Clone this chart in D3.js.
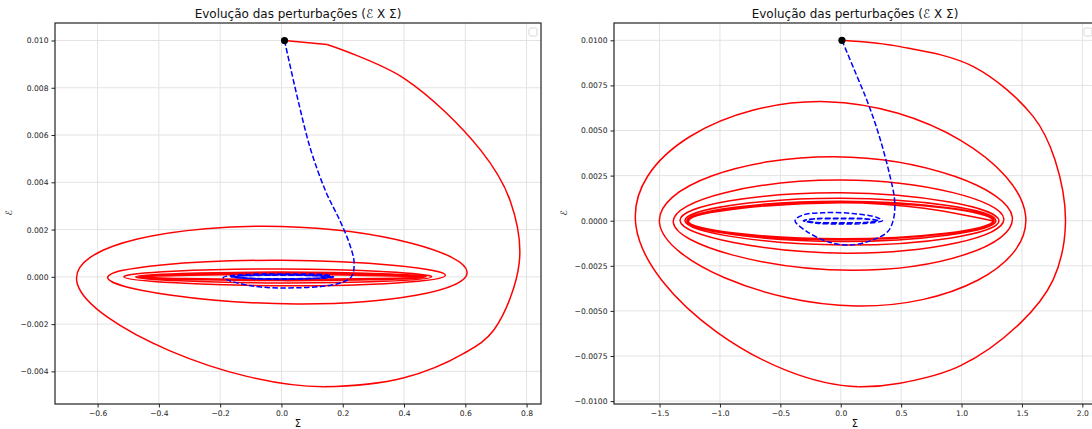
<!DOCTYPE html>
<html><head><meta charset="utf-8">
<script src="https://cdn.jsdelivr.net/npm/d3@7"></script>
<style>body{margin:0;background:#fff;} svg{display:block;font-family:"DejaVu Sans",sans-serif;}</style>
</head><body><svg id="c" width="1092" height="429"></svg>
<script>
// ---- tick labels ----
const leftXTicks = [-0.6, -0.4, -0.2, 0.0, 0.2, 0.4, 0.6, 0.8];
const leftYTicks = [-0.004, -0.002, 0.000, 0.002, 0.004, 0.006, 0.008, 0.010];
const rightXTicks = [-1.5, -1.0, -0.5, 0.0, 0.5, 1.0, 1.5, 2.0];
const rightYTicks = [-0.0100, -0.0075, -0.0050, -0.0025, 0.0000, 0.0025, 0.0050, 0.0075, 0.0100];

// ---- left panel (Σ, ℰ) ----
// red: first arc, from the start through the first right turn to the first bottom (last point only steers the curve)
const leftArcSigma = [0.01, 0.149, 0.40, 0.65, 0.747, 0.776, 0.693, 0.595, 0.40, 0.138, -0.264];
const leftArcE     = [0.0100, 0.00983, 0.0084, 0.00536, 0.0032, 0.0006, -0.00225, -0.00324, -0.00427, -0.00465, -0.00423];
// red: turning points of the spiral (right, bottom, left, top, ...)
const leftRedSigma = [0.776, 0.138, -0.666, 0.0, 0.606, 0.05, -0.567, 0.0, 0.535, 0.02, -0.514, 0.0, 0.49, 0.0, -0.476, 0.0, 0.472, 0.0, -0.465, 0.0, 0.463, 0.0, -0.455, 0.0, 0.458, 0.0, -0.449, 0.0, 0.452];
const leftRedE     = [0.0006, -0.00465, -0.0003, 0.00213, 0.0002, -0.00115, -0.00005, 0.0007, 0.00007, -0.00038, 0.0, 0.00033, 0.0, -0.00026, 0.0, 0.0002, 0.0, -0.00016, 0.0, 0.00014, 0.0, -0.00012, 0.0, 0.00011, 0.0, -0.0001, 0.0, 0.0001, 0.0];
const leftBlueSigma = [0.01, 0.05, 0.095, 0.145, 0.19, 0.222, 0.237, 0.228, 0.18, 0.06, -0.10, -0.19, -0.12, 0.02, 0.15, 0.17, 0.08, -0.08, -0.165, -0.08, 0.08, 0.165, 0.08, -0.08, -0.16, -0.08, 0.08, 0.165, 0.08, -0.08, -0.16, -0.08, 0.08, 0.16];
const leftBlueE     = [0.0100, 0.0077, 0.0054, 0.0036, 0.0024, 0.0014, 0.0006, 0.0000, -0.0003, -0.00046, -0.00038, -0.00003, 0.0001, 0.00012, 0.00008, 0.0, -0.00009, -0.00009, 0.0, 0.00008, 0.00008, 0.0, -0.00008, -0.00008, 0.0, 0.00007, 0.00007, 0.0, -0.00007, -0.00007, 0.0, 0.00006, 0.00006, 0.0];

// ---- right panel (Σ, ℰ) ----
const rightArcSigma = [0.01, 0.49, 1.098, 1.594, 1.774, 1.86, 1.757, 1.484, 0.988, 0.49, 0.146, -0.337];
const rightArcE     = [0.0100, 0.00965, 0.00854, 0.00577, 0.00336, -0.0002, -0.00329, -0.00569, -0.00805, -0.00901, -0.0092, -0.00883];
const rightRedSigma = [1.86, 0.146, -1.695, -0.12, 1.53, 0.13, -1.50, -0.05, 1.42, 0.10, -1.386, 0.0, 1.35, 0.05, -1.33, 0.0, 1.31, 0.03, -1.29, 0.0, 1.285, 0.0, -1.275, 0.0, 1.27, 0.0, -1.265, 0.0, 1.26, 0.0, -1.26, 0.0, 1.255];
const rightRedE     = [-0.0002, -0.0092, -0.0003, 0.0066, 0.0003, -0.00473, -0.00014, 0.00355, 0.0002, -0.00275, -0.0001, 0.00226, 0.0001, -0.0018, 0.0, 0.00155, 0.0, -0.00135, 0.0, 0.00124, 0.0, -0.00115, 0.0, 0.00108, 0.0, -0.00105, 0.0, 0.00102, 0.0, -0.001, 0.0, 0.001, 0.0];
const rightBlueSigma = [0.01, 0.11, 0.215, 0.29, 0.353, 0.41, 0.445, 0.44, 0.39, 0.25, 0.08, -0.10, -0.28, -0.378, -0.32, -0.15, 0.10, 0.30, 0.345, 0.2, 0.0, -0.2, -0.31, -0.2, 0.0, 0.2, 0.31, 0.2, 0.0, -0.2, -0.31, -0.2, 0.0, 0.2, 0.31, 0.2, 0.0, -0.2, -0.30];
const rightBlueE     = [0.0100, 0.0084, 0.0067, 0.0053, 0.0039, 0.0024, 0.0012, 0.0002, -0.0006, -0.0011, -0.00135, -0.00118, -0.0006, 0.0, 0.0003, 0.00044, 0.0004, 0.00018, 0.0, -0.00015, -0.00018, -0.00014, 0.0, 0.00012, 0.00014, 0.00011, 0.0, -0.0001, -0.00012, -0.0001, 0.0, 0.0001, 0.00011, 0.0001, 0.0, -0.0001, -0.00011, -0.0001, 0.0];

const titleText = "Evolução das perturbações (ℰ X Σ)";

const zip = (a, b) => a.map((v, i) => [v, b[i]]);

const panels = [
  { x0: 55, x1: 541, y0: 23, y1: 404, xDomain: [-0.739, 0.847], yDomain: [-0.00538, 0.01074],
    xTicks: leftXTicks, yTicks: leftYTicks, xFmt: d3.format(".1f"), yFmt: d3.format(".3f"),
    arc: zip(leftArcSigma, leftArcE), red: zip(leftRedSigma, leftRedE), blue: zip(leftBlueSigma, leftBlueE),
    kink: true, yLabelX: 12 },
  { x0: 614, x1: 1096, y0: 23, y1: 404, xDomain: [-1.877, 2.113], yDomain: [-0.01016, 0.01096],
    xTicks: rightXTicks, yTicks: rightYTicks, xFmt: d3.format(".1f"), yFmt: d3.format(".4f"),
    arc: zip(rightArcSigma, rightArcE), red: zip(rightRedSigma, rightRedE), blue: zip(rightBlueSigma, rightBlueE),
    kink: false, yLabelX: 567 }
];

// records the commands a d3 curve emits, so chosen segments can be left out
function recorder() {
  const cmds = [];
  return {
    cmds,
    moveTo(x, y) { cmds.push(["M", x, y]); },
    lineTo(x, y) { cmds.push(["L", x, y]); },
    bezierCurveTo(a, b, c, d, e, f) { cmds.push(["C", a, b, c, d, e, f]); },
    closePath() {}
  };
}
function pathFrom(cmds, skipFirst, skipLast) {
  let segs = cmds.slice(1);
  let start = [cmds[0][1], cmds[0][2]];
  if (skipFirst) { const s = segs.shift(); start = [s[s.length - 2], s[s.length - 1]]; }
  if (skipLast) segs.pop();
  return "M" + start.join(",") + segs.map(s => s[0] + s.slice(1).join(",")).join("");
}

const svg = d3.select("#c");

panels.forEach(p => {
  const x = d3.scaleLinear().domain(p.xDomain).range([p.x0, p.x1]);
  const y = d3.scaleLinear().domain(p.yDomain).range([p.y1, p.y0]);
  const g = svg.append("g");
  const clipId = "clip" + p.x0;
  svg.append("clipPath").attr("id", clipId).append("rect")
    .attr("x", p.x0).attr("y", p.y0).attr("width", p.x1 - p.x0).attr("height", p.y1 - p.y0);

  // grid
  g.selectAll(".gx").data(p.xTicks).join("line")
    .attr("x1", d => x(d)).attr("x2", d => x(d)).attr("y1", p.y0).attr("y2", p.y1)
    .attr("stroke", "#e3e3e3").attr("stroke-width", 1);
  g.selectAll(".gy").data(p.yTicks).join("line")
    .attr("y1", d => y(d)).attr("y2", d => y(d)).attr("x1", p.x0).attr("x2", p.x1)
    .attr("stroke", "#e3e3e3").attr("stroke-width", 1);

  // axes
  const ax = g.append("g").attr("transform", `translate(0,${p.y1})`)
    .call(d3.axisBottom(x).tickValues(p.xTicks).tickFormat(p.xFmt).tickSize(3.5).tickPadding(3));
  const ay = g.append("g").attr("transform", `translate(${p.x0},0)`)
    .call(d3.axisLeft(y).tickValues(p.yTicks).tickFormat(p.yFmt).tickSize(3.5).tickPadding(3));
  [ax, ay].forEach(a => {
    a.select(".domain").remove();
    a.selectAll("text").attr("font-size", 7.6).attr("fill", "#222").attr("font-family", "DejaVu Sans");
    a.selectAll("line").attr("stroke", "#222");
  });

  const data = g.append("g").attr("clip-path", `url(#${clipId})`);
  const straight = d3.line().x(d => x(d[0])).y(d => y(d[1]));
  const redStyle = sel => sel.attr("fill", "none").attr("stroke", "#ff0000").attr("stroke-width", 1.5)
    .attr("stroke-linejoin", "round");

  // first arc (Catmull-Rom through read points), last segment dropped
  let arcPts = p.arc;
  if (p.kink) {
    data.append("path").attr("d", straight(p.arc.slice(0, 2))).call(redStyle);
    arcPts = p.arc.slice(1);
  }
  const r1 = recorder();
  d3.line().x(d => x(d[0])).y(d => y(d[1])).curve(d3.curveCatmullRom.alpha(0.5)).context(r1)(arcPts);
  data.append("path").attr("d", pathFrom(r1.cmds, false, true)).call(redStyle);

  // spiral loops (natural spline through turning points), first segment dropped
  const r2 = recorder();
  d3.line().x(d => x(d[0])).y(d => y(d[1])).curve(d3.curveNatural).context(r2)(p.red);
  data.append("path").attr("d", pathFrom(r2.cmds, true, false)).call(redStyle);

  // blue dashed
  data.append("path").attr("d", d3.line().x(d => x(d[0])).y(d => y(d[1])).curve(d3.curveCatmullRom.alpha(0.5))(p.blue))
    .attr("fill", "none").attr("stroke", "#0000ff").attr("stroke-width", 1.5)
    .attr("stroke-dasharray", "5.5,2.4");
  data.append("circle").attr("cx", x(p.arc[0][0])).attr("cy", y(p.arc[0][1])).attr("r", 3.6).attr("fill", "#000");

  // spines
  g.append("rect").attr("x", p.x0).attr("y", p.y0).attr("width", p.x1 - p.x0).attr("height", p.y1 - p.y0)
    .attr("fill", "none").attr("stroke", "#222").attr("stroke-width", 1.2);

  // empty legend
  g.append("rect").attr("x", p.x1 - 12).attr("y", 28).attr("width", 8).attr("height", 8).attr("rx", 1.5)
    .attr("fill", "#fff").attr("stroke", "#cfcfcf").attr("stroke-width", 0.8);

  // title and labels
  const cx = (p.x0 + p.x1) / 2;
  g.append("text").attr("x", cx).attr("y", 18).attr("text-anchor", "middle")
    .attr("font-size", 12).attr("fill", "#111").text(titleText);
  g.append("text").attr("x", cx).attr("y", 427).attr("text-anchor", "middle")
    .attr("font-size", 10).attr("fill", "#111").text("Σ");
  g.append("text").attr("transform", `translate(${p.yLabelX},213) rotate(-90)`).attr("text-anchor", "middle")
    .attr("font-size", 9).attr("fill", "#111").text("ℰ");
});
</script></body></html>
